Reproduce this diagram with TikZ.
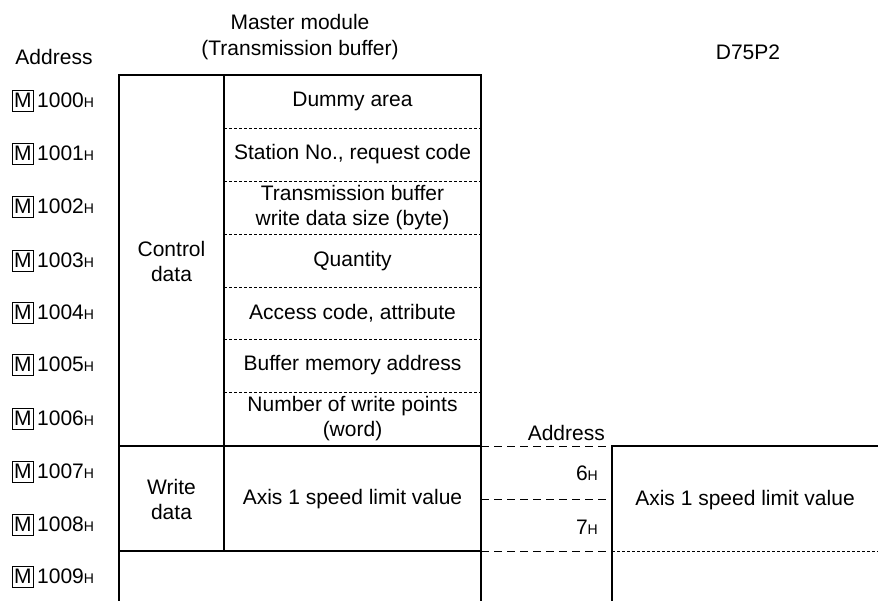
\documentclass[tikz,border=0pt]{standalone}
\usepackage{fontspec}
\setmainfont{Liberation Sans}
\newcommand{\mbx}{{\setlength{\fboxsep}{1.2pt}\setlength{\fboxrule}{0.8pt}\fbox{\rule[-2pt]{0pt}{17.5pt}M}}}
\newcommand{\hsub}{{\fontsize{14}{14}\selectfont H}}
\newcommand{\adr}[1]{\mbx\,#1\hsub}
\tikzset{
  txt/.style={font=\fontsize{21}{25}\selectfont, inner sep=0pt, align=center},
  thick line/.style={line width=1.5pt},
  fine dash/.style={line width=0.8pt, dash pattern=on 3pt off 2pt},
  long dash/.style={line width=0.9pt, dash pattern=on 8pt off 5pt},
}
\begin{document}
\begin{tikzpicture}[x=1pt,y=-1pt]
\useasboundingbox (0,0) rectangle (878,601);
% headings
\node[txt] (mm) at (300,22) {Master module};
\node[txt] (tb) at (300,50) {(Transmission buffer)};
\node[txt] (addr) at (54,57) {Address};
\node[txt] (d75) at (748,52) {D75P2};
% address labels
\foreach \i/\y in {0/101,1/154,2/207,3/261,4/313,5/365,6/419,7/472,8/525,9/577}{
  \node[txt, anchor=west] (a\i) at (12,\y) {\adr{100\i}};
}
% solid frame lines
\draw[thick line] (119,601) -- (119,75) -- (481,75) -- (481,601);
\draw[thick line] (224,75) -- (224,551);
\draw[thick line] (119,446) -- (481,446);
\draw[thick line] (119,551) -- (481,551);
\draw[thick line] (878,446) -- (612,446) -- (612,601);
% fine dashed separators in control data
\foreach \y in {128,181,234,287,339,392}{
  \draw[fine dash] (224,\y) -- (481,\y);
}
% long dashed between columns
\draw[long dash] (481,446) -- (612,446);
\draw[long dash] (481,499) -- (612,499);
\draw[long dash] (481,551) -- (612,551);
\draw[fine dash] (612,551) -- (878,551);
% cell texts
\node[txt] (c0) at (352.5,101) {Dummy area};
\node[txt] (c1) at (352.5,154) {Station No., request code};
\node[txt] (c2) at (352.5,208) {Transmission buffer\\write data size (byte)};
\node[txt] (c3) at (352.5,261) {Quantity};
\node[txt] (c4) at (352.5,313) {Access code, attribute};
\node[txt] (c5) at (352.5,365) {Buffer memory address};
\node[txt] (c6) at (352.5,419) {Number of write points\\(word)};
\node[txt] (cd) at (171.5,261) {Control\\data};
\node[txt] (wd) at (171.5,499) {Write\\data};
\node[txt] (ax1) at (352.5,499) {Axis 1 speed limit value};
\node[txt] (ax2) at (745,500) {Axis 1 speed limit value};
\node[txt, anchor=east] (addr2) at (605,433) {Address};
\node[txt, anchor=east] (h6) at (598,473) {6\hsub};
\node[txt, anchor=east] (h7) at (598,527) {7\hsub};
\end{tikzpicture}
\end{document}
